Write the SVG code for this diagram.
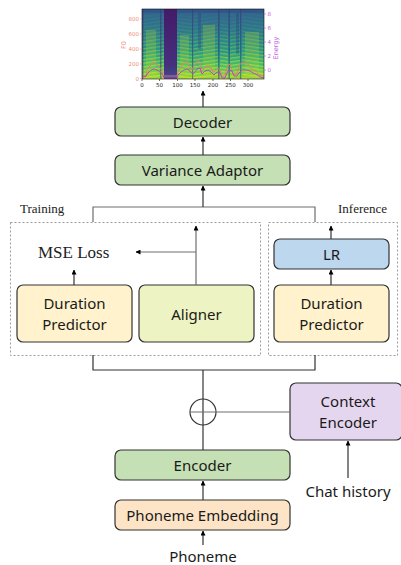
<svg xmlns="http://www.w3.org/2000/svg" width="401" height="565" viewBox="0 0 401 565">
<style>
.box{stroke:#333;stroke-width:1.2}
.lbl{font-family:"Noto Sans","Open Sans",sans-serif;font-size:15px;fill:#1a1a1a;text-anchor:middle;dominant-baseline:central}
.serif{font-family:"Liberation Serif","Times New Roman",serif;fill:#222}
.ln{stroke:#6e6e6e;stroke-width:1.2;fill:none}
.dk{stroke:#333;stroke-width:1.2;fill:none}
.arr{stroke:#333;stroke-width:1.2;fill:none;marker-end:url(#ah)}
.dash{fill:none;stroke:#9a9a9a;stroke-width:1;stroke-dasharray:2 2}
.tk{font-family:"DejaVu Sans",sans-serif;font-size:5.5px}
</style>
<defs>
<marker id="ah" viewBox="0 0 10 10" refX="9" refY="5" markerWidth="5" markerHeight="5" orient="auto" markerUnits="userSpaceOnUse">
<path d="M0,0L10,5L0,10z" fill="#000"/>
</marker>
<linearGradient id="spec" x1="0" y1="0" x2="0" y2="1">
<stop offset="0" stop-color="#33628d"/>
<stop offset="0.3" stop-color="#2a788e"/>
<stop offset="0.6" stop-color="#22968a"/>
<stop offset="0.8" stop-color="#3fbc72"/>
<stop offset="1" stop-color="#9ad83c"/>
</linearGradient>
<pattern id="harm" width="5" height="3.6" patternUnits="userSpaceOnUse" patternTransform="skewY(-8)">
<rect width="5" height="1.3" fill="#e2e41e"/>
</pattern>
<pattern id="harm2" width="5" height="3.6" patternUnits="userSpaceOnUse" patternTransform="skewY(8)">
<rect width="5" height="1.3" fill="#e2e41e"/>
</pattern>
<linearGradient id="fade" x1="0" y1="0" x2="0" y2="1">
<stop offset="0" stop-color="#fff" stop-opacity="0"/>
<stop offset="0.3" stop-color="#fff" stop-opacity="0.15"/>
<stop offset="1" stop-color="#fff" stop-opacity="0.85"/>
</linearGradient>
<mask id="hm"><rect x="142" y="9" width="122" height="70" fill="url(#fade)"/></mask>
<clipPath id="pc"><rect x="142" y="9" width="122" height="70"/></clipPath>
<linearGradient id="silent" x1="0" y1="0" x2="0" y2="1">
<stop offset="0" stop-color="#441a68"/>
<stop offset="0.8" stop-color="#46307e"/>
<stop offset="1" stop-color="#3e4c8a"/>
</linearGradient>
</defs>

<g id="spectrogram">
<g clip-path="url(#pc)">
<rect x="142" y="9" width="122" height="70" fill="url(#spec)"/>
<g mask="url(#hm)" opacity="0.85">
<rect x="142" y="9" width="22" height="70" fill="url(#harm)"/>
<rect x="177" y="9" width="15" height="70" fill="url(#harm2)"/>
<rect x="193" y="9" width="25" height="70" fill="url(#harm)"/>
<rect x="220" y="9" width="8" height="70" fill="url(#harm2)"/>
<rect x="230" y="9" width="10" height="70" fill="url(#harm)"/>
<rect x="242" y="9" width="22" height="70" fill="url(#harm2)"/>
</g>
<g fill="#b5de2b" opacity="0.25">
<rect x="146" y="30" width="10" height="49"/>
<rect x="180" y="35" width="9" height="44"/>
<rect x="203" y="25" width="12" height="54"/>
<rect x="245" y="32" width="14" height="47"/>
</g>
<g fill="#3b2a78" opacity="0.45">
<rect x="142" y="9" width="1.5" height="70"/>
<rect x="160" y="9" width="1.5" height="70"/>
<rect x="192" y="9" width="1.2" height="70"/>
<rect x="218" y="9" width="1.5" height="70"/>
<rect x="228.5" y="9" width="1.5" height="70"/>
<rect x="240" y="9" width="1.2" height="70"/>
</g>
<g fill="#2c3f84" opacity="0.35">
<rect x="142" y="9" width="122" height="4"/>
<rect x="198" y="9" width="3" height="40"/>
<rect x="236" y="9" width="3" height="45"/>
</g>
<rect x="164" y="9" width="13" height="70" fill="url(#silent)"/>
<polyline fill="none" stroke="#e8787a" stroke-width="0.9" points="142,77 146,77 147,70 150,66 153,63 156,63 158,66 160,68 162,70 163,76 177,76 178,72 180,68 183,64 186,62 188,63 190,68 192,70 194,66 196,63 198,60 200,62 201,72 203,70 205,67 208,66 211,68 213,72 215,71 218,68 220,70 222,76 225,76 227,68 229,64 231,66 233,74 236,75 238,70 240,64 244,63 248,64 250,67 253,70 256,71 260,76 264,76"/>
<polyline fill="none" stroke="#b43fd0" stroke-width="0.9" points="142,77 146,76 148,73 151,70 154,69 157,70 160,72 163,75 164,78 177,78 178,75 181,72 184,70 187,69 190,71 193,74 195,72 197,69 200,68 202,74 205,71 208,70 211,72 214,75 217,72 220,73 222,78 225,78 227,73 229,70 232,71 234,76 237,76 239,73 242,70 246,70 250,71 253,73 256,74 260,77 264,78"/>
</g>
<rect x="142" y="9" width="122" height="70" fill="none" stroke="#111" stroke-width="0.6"/>
<g stroke="#f08a7e" stroke-width="0.6">
<line x1="140" y1="19" x2="142" y2="19"/><line x1="140" y1="34" x2="142" y2="34"/><line x1="140" y1="49" x2="142" y2="49"/><line x1="140" y1="64" x2="142" y2="64"/><line x1="140" y1="78.5" x2="142" y2="78.5"/>
</g>
<g class="tk" fill="#f08a7e" text-anchor="end">
<text x="139" y="21">800</text><text x="139" y="36">600</text><text x="139" y="51">400</text><text x="139" y="66">200</text><text x="139" y="80.5">0</text>
</g>
<text class="tk" fill="#f08a7e" text-anchor="middle" transform="translate(126,45) rotate(-90)" style="font-size:6.5px">F0</text>
<g stroke="#c060e0" stroke-width="0.6">
<line x1="264" y1="14" x2="266" y2="14"/><line x1="264" y1="28" x2="266" y2="28"/><line x1="264" y1="42" x2="266" y2="42"/><line x1="264" y1="56" x2="266" y2="56"/><line x1="264" y1="70" x2="266" y2="70"/>
</g>
<g class="tk" fill="#c060e0">
<text x="267.5" y="16">8</text><text x="267.5" y="30">6</text><text x="267.5" y="44">4</text><text x="267.5" y="58">2</text><text x="267.5" y="72">0</text>
</g>
<text class="tk" fill="#c060e0" text-anchor="middle" transform="translate(278,48) rotate(-90)" style="font-size:6.5px">Energy</text>
<g stroke="#111" stroke-width="0.6">
<line x1="142" y1="79" x2="142" y2="81"/><line x1="159.5" y1="79" x2="159.5" y2="81"/><line x1="177.5" y1="79" x2="177.5" y2="81"/><line x1="195" y1="79" x2="195" y2="81"/><line x1="213" y1="79" x2="213" y2="81"/><line x1="230.5" y1="79" x2="230.5" y2="81"/><line x1="248" y1="79" x2="248" y2="81"/>
</g>
<g class="tk" fill="#222" text-anchor="middle">
<text x="142" y="87">0</text><text x="159.5" y="87">50</text><text x="177.5" y="87">100</text><text x="195" y="87">150</text><text x="213" y="87">200</text><text x="230.5" y="87">250</text><text x="248" y="87">300</text>
</g>
</g>

<g id="decoder"><rect class="box" x="115" y="107" width="175" height="29" rx="6" fill="#c5e0b4"/><text class="lbl" x="202.5" y="121.5">Decoder</text></g>
<g id="variance-adaptor"><rect class="box" x="115" y="155" width="175" height="30" rx="6" fill="#c5e0b4"/><text class="lbl" x="202.5" y="170">Variance Adaptor</text></g>

<g id="training-region"><rect class="dash" x="10.5" y="222.5" width="250" height="133"/><text class="serif" x="20" y="213" font-size="13">Training</text><text class="serif" x="38" y="258" font-size="17">MSE Loss</text></g>
<g id="inference-region"><rect class="dash" x="268.5" y="222.5" width="129" height="133"/><text class="serif" x="338" y="213" font-size="13">Inference</text></g>

<g id="duration-predictor-train"><rect class="box" x="17" y="285" width="115" height="57" rx="6" fill="#fff2cc"/><text class="lbl" x="74.5" y="303">Duration</text><text class="lbl" x="74.5" y="324">Predictor</text></g>
<g id="aligner"><rect class="box" x="139" y="285" width="115" height="57" rx="6" fill="#eef3c3"/><text class="lbl" x="196.5" y="313.5">Aligner</text></g>
<g id="lr"><rect class="box" x="274" y="239" width="115" height="30" rx="6" fill="#bdd7ee"/><text class="lbl" x="331.5" y="254">LR</text></g>
<g id="duration-predictor-infer"><rect class="box" x="274" y="285" width="115" height="57" rx="6" fill="#fff2cc"/><text class="lbl" x="331.5" y="303">Duration</text><text class="lbl" x="331.5" y="324">Predictor</text></g>

<g id="context-encoder"><rect class="box" x="290" y="383" width="112" height="57" rx="6" fill="#e5d6ef"/><text class="lbl" x="348" y="401">Context</text><text class="lbl" x="348" y="422">Encoder</text></g>
<g id="encoder"><rect class="box" x="115" y="450" width="175" height="30" rx="6" fill="#c5e0b4"/><text class="lbl" x="202.5" y="465">Encoder</text></g>
<g id="phoneme-embedding"><rect class="box" x="115" y="500" width="175" height="30" rx="6" fill="#fde4c6"/><text class="lbl" x="202.5" y="515">Phoneme Embedding</text></g>
<g id="chat-history"><text class="lbl" x="348" y="491">Chat history</text></g>
<g id="phoneme"><text class="lbl" x="203" y="556">Phoneme</text></g>

<g id="connectors">
<path class="arr" d="M203,107V91"/>
<path class="arr" d="M203,155V137"/>
<path class="ln" d="M93,222V207H315V222"/>
<path class="arr" d="M203,207V186"/>
<path class="arr" d="M74,285V270"/>
<path class="ln" d="M196,285V230"/>
<path class="arr" d="M196,230V226"/>
<path class="ln" d="M196,252H140"/>
<path class="arr" d="M140,252H136"/>
<path class="arr" d="M331,285V270"/>
<path class="arr" d="M331,239V226"/>
<path class="dk" d="M93,355V370H315V355"/>
<path class="dk" d="M203,370V450"/>
<circle class="dk" cx="203" cy="412" r="13"/>
<path class="ln" d="M190,412H290"/>
<path class="arr" d="M348,478V441"/>
<path class="arr" d="M203,500V481"/>
<path class="arr" d="M203,545V531"/>
</g>
</svg>
